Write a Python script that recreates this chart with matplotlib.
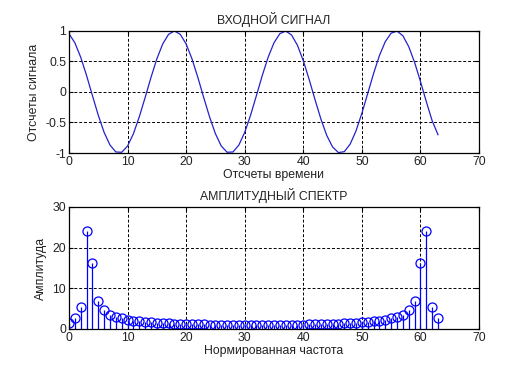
import matplotlib
matplotlib.use("Agg")
import matplotlib.pyplot as plt

plt.rcParams['font.family'] = ['Liberation Sans', 'DejaVu Sans']

n_samples = list(range(64))
signal = [0.956, 0.807, 0.570, 0.271, -0.058, -0.381, -0.662, -0.870, -0.983, -0.988,
          -0.886, -0.684, -0.407, -0.091, 0.239, 0.543, 0.787, 0.945, 1.000, 0.945,
          0.787, 0.543, 0.239, -0.091, -0.407, -0.684, -0.886, -0.988, -0.983, -0.870,
          -0.662, -0.381, -0.058, 0.271, 0.570, 0.807, 0.956, 0.999, 0.934, 0.766,
          0.514, 0.206, -0.124, -0.441, -0.711, -0.901, -0.993, -0.978, -0.855, -0.638,
          -0.349, -0.025, 0.303, 0.597, 0.826, 0.965, 0.998, 0.922, 0.744, 0.486,
          0.174, -0.157, -0.471, -0.700]

spec_half = [1.5, 2.7, 5.5, 24.2, 16.2, 7.0, 4.7, 3.5, 2.9, 2.6,
             2.2, 2.0, 1.85, 1.7, 1.6, 1.5, 1.45, 1.4, 1.35, 1.3,
             1.25, 1.2, 1.15, 1.12, 1.1, 1.08, 1.05, 1.03, 1.02, 1.0,
             1.0, 0.98, 0.98]
spectrum = spec_half + spec_half[1:32][::-1]

fig = plt.figure(figsize=(5.29, 3.72), dpi=100)
ax1 = fig.add_axes([0.1304, 0.5887, 0.7751, 0.328])
ax2 = fig.add_axes([0.1304, 0.1156, 0.7751, 0.328])

fs = 8.8
blue = '#0000ff'
tc = '#222222'

ax1.plot(n_samples, signal, color='#2222cc', lw=0.9)
ax1.set_xlim(0, 70)
ax1.set_ylim(-1, 1)
ax1.set_xticks(range(0, 71, 10))
ax1.set_yticks([-1, -0.5, 0, 0.5, 1])
ax1.set_yticklabels(['-1', '-0.5', '0', '0.5', '1'])
ax1.set_title('ВХОДНОЙ СИГНАЛ', fontsize=fs, pad=5, color=tc)
ax1.set_xlabel('Отсчеты времени', fontsize=fs, labelpad=1, color=tc)
ax1.set_ylabel('Отсчеты сигнала', fontsize=fs, labelpad=4, color=tc)

freq = list(range(len(spectrum)))
ax2.vlines(freq, 0, spectrum, color=blue, lw=0.9)
ax2.plot(freq, spectrum, 'o', mfc='none', mec=blue, ms=6.5, mew=0.9)
ax2.set_xlim(0, 70)
ax2.set_ylim(0, 30)
ax2.set_xticks(range(0, 71, 10))
ax2.set_yticks([0, 10, 20, 30])
ax2.set_title('АМПЛИТУДНЫЙ СПЕКТР', fontsize=fs, pad=5, color=tc)
ax2.set_xlabel('Нормированная частота', fontsize=fs, labelpad=1, color=tc)
ax2.set_ylabel('Амплитуда', fontsize=fs, labelpad=4, color=tc)

for ax in (ax1, ax2):
    ax.grid(True, color='black', linestyle=(0, (3, 2)), lw=0.7)
    ax.tick_params(direction='in', labelsize=fs, length=3, pad=2, top=True, right=True,
                   labelcolor=tc)
    for s in ax.spines.values():
        s.set_linewidth(0.9)

fig.savefig('out.png', dpi=100)
